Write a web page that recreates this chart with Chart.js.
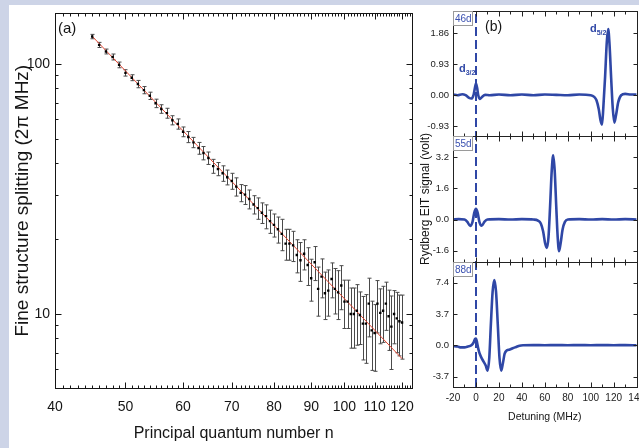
<!DOCTYPE html>
<html>
<head>
<meta charset="utf-8">
<script src="https://cdn.jsdelivr.net/npm/chart.js@4.4.0/dist/chart.umd.min.js"></script>
<style>
  html, body { margin: 0; padding: 0; width: 639px; height: 448px; overflow: hidden; background: #cdd4e7; }
  #sheet { position: absolute; left: 9px; top: 5px; width: 640px; height: 443px; background: #fff; }
  #chartA { position: absolute; left: 0; top: 0; }
  #chartB { position: absolute; left: 410px; top: 0; }
</style>
</head>
<body>
<div id="sheet"></div>
<canvas id="chartA" width="425" height="448"></canvas>
<canvas id="chartB" width="240" height="448"></canvas>
<script>
// --- panel (a): fine structure splitting vs n (log-log) ---
const nValues = [45, 46, 47, 48, 49, 50, 51, 52, 53, 54, 55, 56, 57, 58, 59,
  60, 61, 62, 63, 64, 65, 66, 67, 68, 69, 70, 71, 72, 73, 74, 75, 76, 77, 78, 79, 80, 81,
  82, 83, 84, 85, 86, 87, 88, 89, 90, 91, 92, 93, 94, 95, 96, 97, 98, 99, 100,
  101, 102, 103, 104, 105, 106, 107, 108, 109, 110, 111, 112, 113, 114, 115, 116, 117, 118, 119, 120];
const splitting = [128.5, 119.0, 112.0, 106.5, 99.0, 92.0, 88.0, 83.0, 78.5, 74.5, 69.5, 66.0, 63.5, 59.5, 57.5,
  53.5, 51.0, 48.5, 46.0, 44.0, 42.0, 39.0, 38.0, 36.5, 35.2, 34.0, 32.3, 30.5, 30.0, 28.8, 27.4, 26.5, 25.4, 24.6, 23.5, 22.7, 21.8,
  20.9, 19.1, 19.1, 18.8, 17.2, 16.4, 17.4, 15.7, 13.9, 16.1, 12.6, 14.1, 12.1, 12.4, 13.8, 12.6, 12.2, 13.0, 11.2,
  11.2, 10.0, 10.0, 10.3, 9.9, 9.15, 9.15, 11.0, 8.6, 8.4, 11.0, 10.1, 10.3, 11.0, 9.8, 8.9, 10.0, 9.6, 9.35, 9.25];
const splitErr = [2.6, 2.8, 2.5, 2.9, 2.6, 2.7, 2.4, 2.8, 2.6, 2.5, 2.7, 2.6, 2.9, 2.5, 2.7,
  2.4, 2.6, 2.3, 2.5, 2.7, 2.4, 2.5, 2.3, 2.6, 2.4, 2.5, 2.7, 2.4, 2.6, 2.5, 2.3, 2.6, 2.4, 2.7, 2.5, 2.4, 2.6,
  3.0, 2.7, 2.7, 2.6, 2.6, 2.9, 2.4, 2.7, 2.65, 2.5, 2.8, 2.5, 2.6, 2.6, 2.2, 2.6, 2.7, 2.6, 2.45,
  2.45, 2.7, 2.7, 2.8, 2.35, 2.6, 2.8, 2.9, 2.65, 2.5, 2.6, 2.5, 2.6, 2.4, 2.65, 2.9, 2.4, 2.6, 2.55, 2.65];
const fitN = [45, 120];
const fitSplit = [128.8, 6.63];
const xTicksA = [40, 50, 60, 70, 80, 90, 100, 110, 120];
const yTicksA = [10, 100];
const yMinorA = [6, 7, 8, 9, 20, 30, 40, 50, 60, 70, 80, 90];

// --- panel (b): Rydberg EIT spectra ---
const det46 = [-20, -16, -12, -9, -6, -4, -2, -1, 0, 1, 2, 3.5, 5, 8, 12, 20, 30, 40, 50, 60,
  70, 80, 90, 100, 103, 105, 107, 108.5, 109.8, 111, 112.5, 114, 115.2, 116.4, 117.8, 119.2, 120.6, 122, 124, 126.5,
  130, 135, 140];
const sig46 = [0.02, 0.0, 0.03, 0.0, -0.08, -0.1, 0.02, 0.2, 0.35, 0.22, 0.0, -0.11, -0.06, 0.01, 0.0, 0.02, 0.0, 0.02, 0.0, 0.02,
  0.01, 0.0, 0.02, 0.0, -0.05, -0.15, -0.42, -0.75, -0.88, -0.35, 0.55, 1.6, 1.98, 1.5, 0.5, -0.4, -0.82, -0.6, -0.2, 0.0,
  0.04, 0.02, 0.02];
const det55 = [-20, -15, -10, -7.5, -5, -3, -1.5, 0, 1.5, 3, 5, 7.5, 10, 20, 30, 40, 50, 54, 56.5, 58.5,
  60.2, 61.8, 63.2, 64.6, 66, 67.3, 68.6, 70, 71.2, 72.4, 73.8, 75.5, 77.5, 80, 90, 100, 110, 120, 130, 140];
const sig55 = [0.0, 0.02, 0.0, -0.12, -0.33, -0.12, 0.35, 0.55, 0.35, -0.12, -0.32, -0.1, 0.0, 0.02, 0.0, 0.02, 0.0, -0.05, -0.2, -0.6,
  -1.2, -1.45, -0.9, 0.7, 2.5, 3.3, 2.5, 0.6, -0.9, -1.62, -1.2, -0.5, -0.12, 0.0, 0.02, 0.0, 0.02, 0.0, 0.02, 0.0];
const det88 = [-20, -16, -13, -10, -7, -4, -2, -0.8, 0, 1, 2, 3, 4.5, 6.5, 8.5, 10.2, 11.6, 13, 14.5, 16,
  17.5, 19, 20.5, 22, 23.5, 25, 27, 29.5, 32, 35, 38, 41, 50, 60, 70, 80, 90, 100, 110, 120, 130, 140];
const sig88 = [-0.1, -0.15, -0.25, -0.25, -0.15, 0.0, 0.35, 0.75, 0.8, 0.3, -0.4, -0.9, -1.4, -1.9, -2.4, -3.0, -1.5, 2.5, 6.3, 7.7,
  6.3, 2.5, -1.5, -3.0, -2.1, -1.0, -0.6, -0.5, -0.35, -0.2, -0.05, 0.0, 0.02, 0.0, 0.02, 0.0, 0.02, 0.0, 0.02, 0.0, 0.02, 0.0];
const xTicksB = [-20, 0, 20, 40, 60, 80, 100, 120, 140];
const xMinorB = [-10, 10, 30, 50, 70, 90, 110, 130];
const ticks46 = [-0.93, 0, 0.93, 1.86];
const ticks55 = [-1.6, 0, 1.6, 3.2];
const ticks88 = [-3.7, 0, 3.7, 7.4];

const FONT = "'Liberation Sans', Arial, sans-serif";
const eitBlue = '#2f47a6';
const ink = '#151515';

const pts = (xs, ys) => xs.map((v, i) => ({ x: v, y: ys[i] }));

// error bars under the points
const errorBars = {
  id: 'errorBars',
  beforeDatasetsDraw(chart) {
    const { ctx, scales: { x, y } } = chart;
    ctx.save();
    ctx.strokeStyle = '#4a4a4a';
    ctx.lineWidth = 1;
    ctx.beginPath();
    nValues.forEach((n, i) => {
      const px = Math.round(x.getPixelForValue(n)) + 0.5;
      const top = y.getPixelForValue(splitting[i] + splitErr[i]);
      const bot = y.getPixelForValue(splitting[i] - splitErr[i]);
      ctx.moveTo(px, top); ctx.lineTo(px, bot);
      ctx.moveTo(px - 2, top); ctx.lineTo(px + 2, top);
      ctx.moveTo(px - 2, bot); ctx.lineTo(px + 2, bot);
    });
    ctx.stroke();
    ctx.restore();
  }
};

// box frame with inward ticks, plus the panel letter
const axesA = {
  id: 'axesA',
  afterDraw(chart) {
    const { ctx, chartArea: a, scales: { x, y } } = chart;
    ctx.save();
    ctx.strokeStyle = ink;
    ctx.lineWidth = 1;
    const L = Math.round(a.left) + 0.5, R = Math.round(a.right) + 0.5;
    const T = Math.round(a.top) + 0.5, B = Math.round(a.bottom) + 0.5;
    ctx.strokeRect(L, T, R - L, B - T);
    ctx.beginPath();
    const vTick = (v, len) => {
      const px = Math.round(x.getPixelForValue(v)) + 0.5;
      ctx.moveTo(px, B); ctx.lineTo(px, B - len);
      ctx.moveTo(px, T); ctx.lineTo(px, T + len);
    };
    const hTick = (v, len) => {
      const py = Math.round(y.getPixelForValue(v)) + 0.5;
      ctx.moveTo(L, py); ctx.lineTo(L + len, py);
      ctx.moveTo(R, py); ctx.lineTo(R - len, py);
    };
    xTicksA.forEach(v => vTick(v, 6));
    for (let v = 41; v < 124; v++) if (v % 10) vTick(v, 3);
    yTicksA.forEach(v => hTick(v, 6));
    yMinorA.forEach(v => hTick(v, 3));
    ctx.stroke();
    ctx.fillStyle = ink;
    ctx.font = '15px ' + FONT;
    ctx.textBaseline = 'middle';
    ctx.fillText('(a)', a.left + 3, a.top + 15);
    ctx.restore();
  }
};

new Chart(document.getElementById('chartA'), {
  type: 'scatter',
  data: {
    datasets: [
      {
        label: 'measured',
        data: pts(nValues, splitting),
        pointStyle: 'rect',
        pointRadius: 1.7,
        backgroundColor: '#000',
        borderColor: '#000',
        borderWidth: 0,
        order: 0
      },
      {
        label: 'fit',
        data: pts(fitN, fitSplit),
        showLine: true,
        pointRadius: 0,
        borderColor: '#e2432f',
        borderWidth: 1,
        order: 1
      }
    ]
  },
  options: {
    responsive: false,
    animation: false,
    layout: { padding: { top: 11, right: 9, left: 0, bottom: 0 } },
    plugins: { legend: { display: false }, tooltip: { enabled: false } },
    scales: {
      x: {
        type: 'logarithmic',
        min: 40,
        max: 124,
        afterBuildTicks: s => { s.ticks = xTicksA.map(v => ({ value: v })); },
        afterFit: s => { s.height = 60; },
        grid: { display: false, drawTicks: false },
        border: { display: false },
        ticks: { autoSkip: false, maxRotation: 0, padding: 11, color: ink, font: { family: FONT, size: 14 }, callback: v => String(v) },
        title: { display: true, text: 'Principal quantum number n', color: ink, font: { family: FONT, size: 16 }, padding: { top: 0, bottom: 5 } }
      },
      y: {
        type: 'logarithmic',
        min: 5.06,
        max: 159,
        afterBuildTicks: s => { s.ticks = yTicksA.map(v => ({ value: v })); },
        afterFit: s => { s.width = 55; },
        grid: { display: false, drawTicks: false },
        border: { display: false },
        ticks: { autoSkip: false, padding: 5, color: ink, font: { family: FONT, size: 14 }, callback: v => String(v) },
        title: { display: true, text: 'Fine structure splitting (2\u03c0 MHz)', color: ink, font: { family: FONT, size: 19 }, padding: { top: 11, bottom: 0 } }
      }
    }
  },
  plugins: [errorBars, axesA]
});

// --- panel (b) ---
const panelsB = [
  { id: 'y46', name: '46d', ticks: ticks46 },
  { id: 'y55', name: '55d', ticks: ticks55 },
  { id: 'y88', name: '88d', ticks: ticks88 }
];

const axesB = {
  id: 'axesB',
  beforeDatasetsDraw(chart) {
    const { ctx, chartArea: a, scales: { x } } = chart;
    const px = Math.round(x.getPixelForValue(0));
    ctx.save();
    ctx.strokeStyle = eitBlue;
    ctx.lineWidth = 2;
    ctx.setLineDash([9, 4]);
    ctx.beginPath();
    ctx.moveTo(px, a.top + 3);
    ctx.lineTo(px, a.bottom);
    ctx.stroke();
    ctx.restore();
  },
  afterDraw(chart) {
    const { ctx, chartArea: a, scales } = chart;
    const x = scales.x;
    const L = Math.round(a.left) + 0.5, R = Math.round(a.right) + 0.5;
    ctx.save();
    panelsB.forEach(p => {
      const s = scales[p.id];
      const T = Math.round(s.top) + 0.5, B = Math.round(s.bottom) + 0.5;
      ctx.strokeStyle = '#222';
      ctx.lineWidth = 1;
      ctx.strokeRect(L, T, R - L, B - T);
      ctx.beginPath();
      const vTick = (v, len) => {
        const px = Math.round(x.getPixelForValue(v)) + 0.5;
        ctx.moveTo(px, B); ctx.lineTo(px, B - len);
        ctx.moveTo(px, T); ctx.lineTo(px, T + len);
      };
      xTicksB.forEach(v => vTick(v, 5));
      xMinorB.forEach(v => vTick(v, 3));
      p.ticks.forEach(v => {
        const py = Math.round(s.getPixelForValue(v)) + 0.5;
        ctx.moveTo(L, py); ctx.lineTo(L + 4, py);
        ctx.moveTo(R, py); ctx.lineTo(R - 4, py);
      });
      ctx.stroke();
      // sample label box
      ctx.fillStyle = '#fff';
      ctx.fillRect(L, T, 19, 14);
      ctx.strokeStyle = '#9a9a9a';
      ctx.strokeRect(L, T, 19, 14);
      ctx.fillStyle = '#3a50b0';
      ctx.font = '10px ' + FONT;
      ctx.textBaseline = 'middle';
      ctx.fillText(p.name, L + 1.5, T + 7.5);
    });
    // panel letter
    ctx.fillStyle = ink;
    ctx.font = '14px ' + FONT;
    ctx.textBaseline = 'middle';
    ctx.fillText('(b)', a.left + 32, a.top + 16);
    // level labels d3/2 and d5/2
    const sub = (main, low, px, py) => {
      ctx.fillStyle = eitBlue;
      ctx.font = 'bold 11px ' + FONT;
      ctx.fillText(main, px, py);
      const w = ctx.measureText(main).width;
      ctx.font = 'bold 7px ' + FONT;
      ctx.fillText(low, px + w, py + 4);
    };
    const s46 = scales.y46;
    sub('d', '3/2', x.getPixelForValue(0) - 17, s46.getPixelForValue(0.78));
    sub('d', '5/2', x.getPixelForValue(115) - 18, s46.getPixelForValue(1.98));
    ctx.restore();
  }
};

const curve = (xs, ys, axis) => ({
  data: pts(xs, ys),
  yAxisID: axis,
  showLine: true,
  pointRadius: 0,
  borderColor: eitBlue,
  borderWidth: 2.6,
  cubicInterpolationMode: 'monotone'
});

const yScaleB = (ticks, min, max, digits, weight, title) => ({
  type: 'linear',
  position: 'left',
  stack: 'eit',
  stackWeight: 1,
  weight,
  min,
  max,
  afterBuildTicks: s => { s.ticks = ticks.map(v => ({ value: v })); },
  afterFit: s => { s.width = 43; },
  grid: { display: false, drawTicks: false },
  border: { display: false },
  ticks: { autoSkip: false, padding: 4, color: '#222', font: { family: FONT, size: 9.5 }, callback: v => v.toFixed(digits) },
  title: title
    ? { display: true, text: title, color: ink, font: { family: FONT, size: 12 }, padding: { top: 8, bottom: 0 } }
    : { display: false }
});

new Chart(document.getElementById('chartB'), {
  type: 'scatter',
  data: {
    datasets: [
      curve(det46, sig46, 'y46'),
      curve(det55, sig55, 'y55'),
      curve(det88, sig88, 'y88')
    ]
  },
  options: {
    responsive: false,
    animation: false,
    layout: { padding: { top: 11, right: 10, left: 0, bottom: 0 } },
    plugins: { legend: { display: false }, tooltip: { enabled: false } },
    scales: {
      x: {
        type: 'linear',
        min: -20,
        max: 140,
        afterBuildTicks: s => { s.ticks = xTicksB.map(v => ({ value: v })); },
        afterFit: s => { s.height = 61; },
        grid: { display: false, drawTicks: false },
        border: { display: false },
        ticks: { autoSkip: false, maxRotation: 0, padding: 5, color: '#222', font: { family: FONT, size: 10 }, callback: v => String(v) },
        title: { display: true, text: 'Detuning (MHz)', color: ink, font: { family: FONT, size: 10.5 }, padding: { top: 0, bottom: 25 } }
      },
      y46: yScaleB(ticks46, -1.23, 2.52, 2, 3, null),
      y55: yScaleB(ticks55, -2.16, 4.27, 1, 2, 'Rydberg EIT signal (volt)'),
      y88: yScaleB(ticks88, -4.93, 9.87, 1, 1, null)
    }
  },
  plugins: [axesB]
});
</script>
</body>
</html>
